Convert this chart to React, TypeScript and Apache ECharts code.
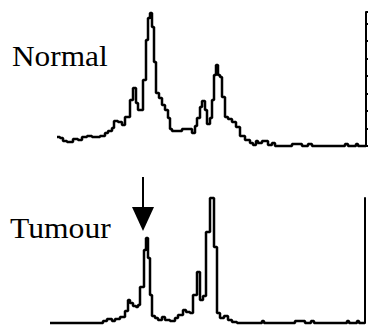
import React, { useEffect, useRef } from "react";
import * as echarts from "echarts";

// Channel positions (start of each step) and peak heights
const normalChannels = [57, 60, 63, 67, 73, 78, 82, 87, 92, 100, 105, 108, 112, 114, 118, 122, 125, 130, 133, 136, 138, 143, 146, 148, 150, 152, 154, 156, 159, 162, 165, 168, 170, 172, 182, 192, 195, 197, 200, 202, 205, 207, 210, 212, 214, 216, 218, 220, 222, 225, 228, 232, 236, 240, 245, 250, 253, 256, 258, 262, 268, 272, 275, 292, 302, 308, 312, 345, 348, 356, 358, 366];
const normalHeights = [9, 8, 5, 4, 7, 6, 9, 10, 9, 10, 13, 15, 18, 25, 24, 21, 29, 46, 58, 43, 36, 66, 106, 128, 133, 119, 84, 53, 48, 41, 36, 28, 17, 15, 17, 13, 20, 28, 39, 45, 36, 22, 28, 46, 71, 81, 71, 69, 49, 29, 27, 24, 19, 10, 6, 3, 1, 5, 3, 5, 1, 3, 0, 2, 0, 2, 0, 2, 0, 2, 0, 0];

const tumourChannels = [50, 103, 107, 112, 115, 120, 125, 128, 130, 133, 136, 138, 140, 144, 146, 148, 150, 152, 155, 158, 162, 165, 170, 175, 178, 183, 186, 190, 193, 197, 200, 203, 206, 210, 214, 217, 220, 224, 228, 232, 237, 262, 264, 295, 305, 311, 314, 347, 349, 357, 359, 365];
const tumourHeights = [0, 2, 4, 2, 4, 6, 12, 23, 20, 17, 16, 18, 36, 73, 85, 65, 28, 7, 5, 3, 6, 3, 2, 5, 8, 13, 11, 10, 28, 51, 23, 27, 91, 125, 76, 10, 5, 7, 3, 1, 0, 2, 0, 2, 0, 2, 0, 2, 0, 2, 0, 0];

const panelLabels = ["Normal", "Tumour"];

export default function App() {
  const ref = useRef<HTMLDivElement>(null);
  useEffect(() => {
    if (!ref.current) return;
    const chart = echarts.init(ref.current, null, { renderer: "svg" });
    const normalData = normalChannels.map((c, i) => [c, normalHeights[i]]);
    const tumourData = tumourChannels.map((c, i) => [c, tumourHeights[i]]);
    chart.setOption({
      animation: false,
      grid: [
        { left: 57, right: 2, top: 12, height: 134 },
        { left: 50, right: 3, top: 198, height: 125 },
      ],
      xAxis: [
        { gridIndex: 0, type: "value", min: 57, max: 366, show: false },
        { gridIndex: 1, type: "value", min: 50, max: 365, show: false },
      ],
      yAxis: [
        {
          gridIndex: 0,
          type: "value",
          position: "right",
          min: 0,
          max: 134,
          interval: 17.5,
          axisLine: { show: true, lineStyle: { color: "#000", width: 2 } },
          axisTick: { show: true, inside: false, length: 3, lineStyle: { color: "#000", width: 2 } },
          axisLabel: { show: false },
          splitLine: { show: false },
        },
        {
          gridIndex: 1,
          type: "value",
          position: "right",
          min: 0,
          max: 125,
          axisLine: { show: true, lineStyle: { color: "#000", width: 2 } },
          axisTick: { show: false },
          axisLabel: { show: false },
          splitLine: { show: false },
        },
      ],
      series: [
        {
          type: "line",
          xAxisIndex: 0,
          yAxisIndex: 0,
          step: "end",
          symbol: "none",
          clip: false,
          data: normalData,
          lineStyle: { color: "#000", width: 2.5 },
        },
        {
          type: "line",
          xAxisIndex: 1,
          yAxisIndex: 1,
          step: "end",
          symbol: "none",
          clip: false,
          data: tumourData,
          lineStyle: { color: "#000", width: 2.5 },
        },
      ],
      graphic: [
        {
          type: "text",
          x: 12,
          y: 56,
          scaleX: 1.08,
          style: {
            text: panelLabels[0],
            fontFamily: "Liberation Serif",
            fontSize: 29,
            fill: "#000",
            align: "left",
            verticalAlign: "middle",
          },
        },
        {
          type: "text",
          x: 10,
          y: 228,
          scaleX: 1.09,
          style: {
            text: panelLabels[1],
            fontFamily: "Liberation Serif",
            fontSize: 29,
            fill: "#000",
            align: "left",
            verticalAlign: "middle",
          },
        },
        {
          type: "line",
          shape: { x1: 143, y1: 177, x2: 143, y2: 209 },
          style: { stroke: "#000", lineWidth: 2 },
        },
        {
          type: "polygon",
          shape: { points: [[132, 207], [154, 207], [143, 231]] },
          style: { fill: "#000" },
        },
      ],
    });
    return () => chart.dispose();
  }, []);
  return (
    <div
      ref={ref}
      style={{ position: "fixed", left: 0, top: 0, width: 368, height: 333, background: "#fff" }}
    />
  );
}
